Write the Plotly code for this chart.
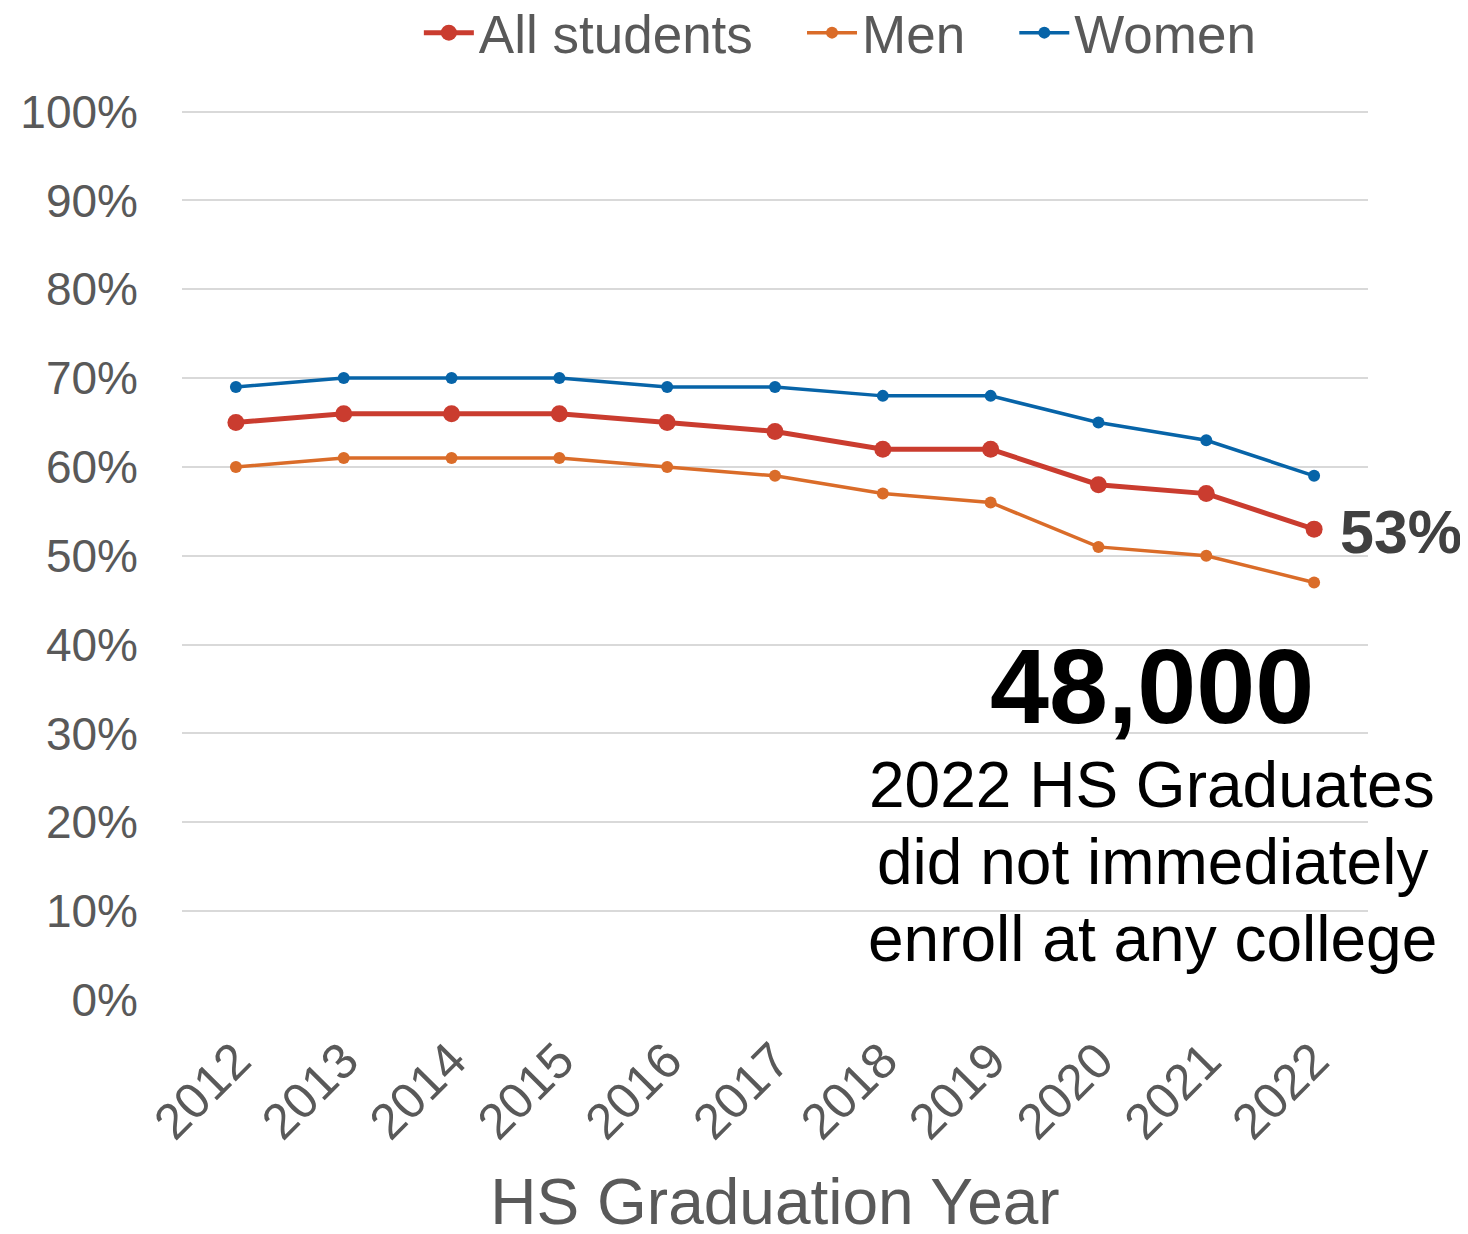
import plotly.graph_objects as go

years = ["2012", "2013", "2014", "2015", "2016", "2017", "2018", "2019", "2020", "2021", "2022"]
all_students = [65, 66, 66, 66, 65, 64, 62, 62, 58, 57, 53]
men = [60, 61, 61, 61, 60, 59, 57, 56, 51, 50, 47]
women = [69, 70, 70, 70, 69, 69, 68, 68, 65, 63, 59]
y_ticks = [0, 10, 20, 30, 40, 50, 60, 70, 80, 90, 100]
callout_number = "48,000"
callout_lines = ["2022 HS Graduates", "did not immediately", "enroll at any college"]

FONT = "Liberation Sans, Arial, sans-serif"
GRAY = "#595959"
GAP = "\u00a0" * 3  # extra room between legend entries

fig = go.Figure()

fig.add_trace(go.Scatter(
    x=years, y=all_students, mode="lines+markers", name="All students" + GAP,
    line=dict(color="#CA3C2F", width=5), marker=dict(size=17),
))
fig.add_trace(go.Scatter(
    x=years, y=men, mode="lines+markers", name="Men" + GAP,
    line=dict(color="#DA6C29", width=3.5), marker=dict(size=12),
))
fig.add_trace(go.Scatter(
    x=years, y=women, mode="lines+markers", name="Women",
    line=dict(color="#0764A8", width=3.5), marker=dict(size=12),
))

# label for the final "All students" point
fig.add_annotation(
    x=len(years) - 1, y=all_students[-1], xref="x", yref="y",
    text=f"<b>{all_students[-1]}%</b>",
    xanchor="left", yanchor="middle", xshift=24, yshift=-3, showarrow=False,
    font=dict(size=61, color="#404040", family=FONT),
)

# callout block (positions in paper fractions of the plot area)
fig.add_annotation(
    x=0.818, y=0.352, xref="paper", yref="paper", text=f"<b>{callout_number}</b>",
    xanchor="center", yanchor="middle", showarrow=False,
    font=dict(size=106, color="black", family=FONT),
)
for i, line in enumerate(callout_lines):
    fig.add_annotation(
        x=0.818, y=0.241 - i * 0.0865, xref="paper", yref="paper", text=line,
        xanchor="center", yanchor="middle", showarrow=False,
        font=dict(size=64, color="black", family=FONT),
    )

fig.update_layout(
    width=1468, height=1234,
    margin=dict(l=172, r=108, t=98, b=242),
    paper_bgcolor="white", plot_bgcolor="white",
    font=dict(family=FONT, color=GRAY),
    showlegend=True,
    legend=dict(
        orientation="h", xref="container", yref="container",
        x=0.567, xanchor="center", y=0.98, yanchor="middle",
        font=dict(size=53, color=GRAY), itemwidth=50, tracegroupgap=0,
    ),
    xaxis=dict(
        type="category", range=[-0.5, 10.5], tickangle=-45,
        tickfont=dict(size=50, color=GRAY), showgrid=False, showline=False,
        ticks="", ticklabelstandoff=20,
        title=dict(text="HS Graduation Year", font=dict(size=64, color=GRAY), standoff=30),
    ),
    yaxis=dict(
        range=[0, 100.3], tickvals=y_ticks, ticktext=[f"{v}%" for v in y_ticks],
        tickfont=dict(size=46, color=GRAY), gridcolor="#D9D9D9", gridwidth=2,
        zeroline=False, showline=False, ticklabelstandoff=43,
    ),
)

fig.write_html("out.html")
